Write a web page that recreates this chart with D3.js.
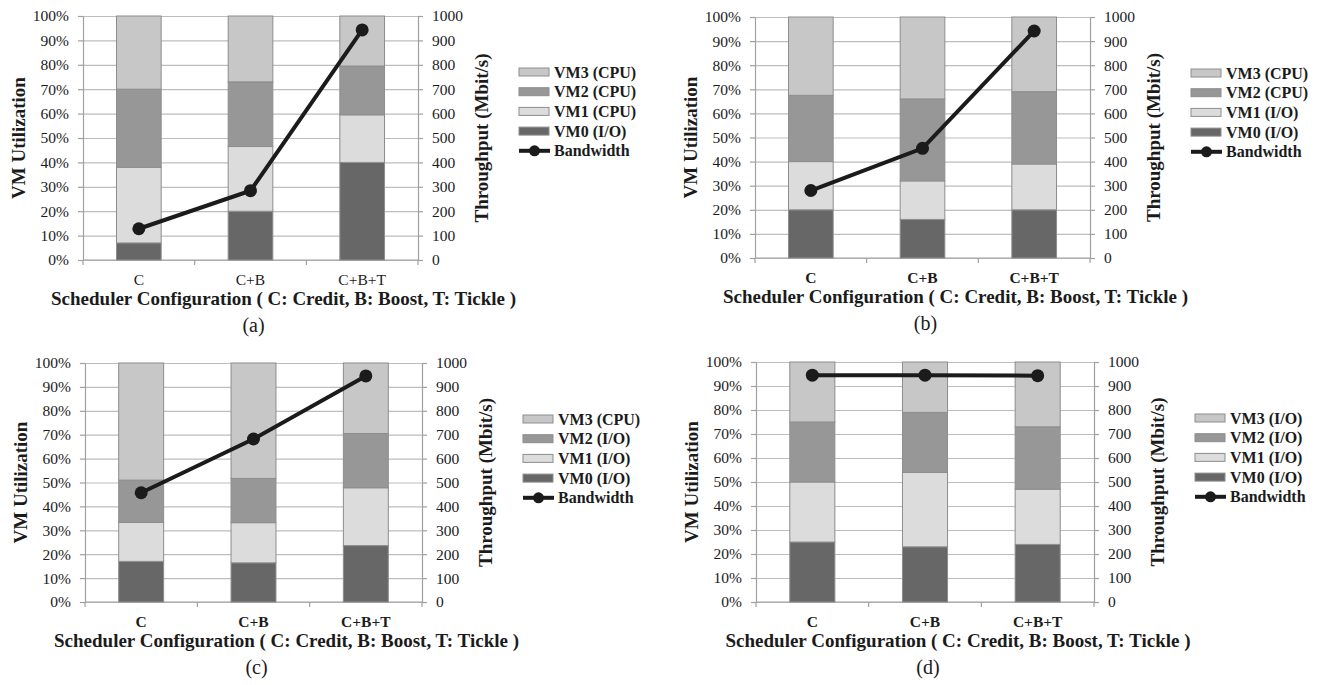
<!DOCTYPE html>
<html>
<head>
<meta charset="utf-8">
<script src="https://cdn.jsdelivr.net/npm/d3@7"></script>
<style>
  html, body { margin: 0; padding: 0; background: #fff; }
  svg { display: block; font-family: "Liberation Serif", "Times New Roman", serif; }
</style>
</head>
<body>
<svg id="chart" width="1320" height="685"></svg>
<script>
const categories = ['C', 'C+B', 'C+B+T'];
const pctTicks = [0, 10, 20, 30, 40, 50, 60, 70, 80, 90, 100];
const pctLabels = ['0%', '10%', '20%', '30%', '40%', '50%', '60%', '70%', '80%', '90%', '100%'];
const bwTicks = [0, 100, 200, 300, 400, 500, 600, 700, 800, 900, 1000];
const bwLabels = ['0', '100', '200', '300', '400', '500', '600', '700', '800', '900', '1000'];
const seriesKeys = ['vm0', 'vm1', 'vm2', 'vm3'];

// panel (a)
const vm0A = [7, 20, 40];
const vm1A = [31, 26.5, 19.5];
const vm2A = [32, 26.5, 20];
const vm3A = [30, 27, 20.5];
const bwA = [128, 284, 943];
const legendA = ['VM3 (CPU)', 'VM2 (CPU)', 'VM1 (CPU)', 'VM0 (I/O)'];

// panel (b)
const vm0B = [20, 16, 20];
const vm1B = [20, 16, 19];
const vm2B = [27.5, 34, 30];
const vm3B = [32.5, 34, 31];
const bwB = [280, 455, 942];
const legendB = ['VM3 (CPU)', 'VM2 (CPU)', 'VM1 (I/O)', 'VM0 (I/O)'];

// panel (c)
const vm0C = [17, 16.4, 23.6];
const vm1C = [16.3, 16.8, 24.2];
const vm2C = [17.7, 18.5, 22.7];
const vm3C = [49, 48.3, 29.5];
const bwC = [457, 682, 946];
const legendC = ['VM3 (CPU)', 'VM2 (I/O)', 'VM1 (I/O)', 'VM0 (I/O)'];

// panel (d)
const vm0D = [25, 23, 24];
const vm1D = [25, 31, 23];
const vm2D = [25, 25, 26];
const vm3D = [25, 21, 27];
const bwD = [945, 945, 943];
const legendD = ['VM3 (I/O)', 'VM2 (I/O)', 'VM1 (I/O)', 'VM0 (I/O)'];

const colors = { vm0: '#676767', vm1: '#dcdcdc', vm2: '#979797', vm3: '#c7c7c7' };
const legendColors = ['#c7c7c7', '#979797', '#dcdcdc', '#676767'];
const gridColor = '#bdbdbd';
const axisColor = '#a0a0a0';
const ink = '#1b1b1b';

const panels = [
  { vm: [vm0A, vm1A, vm2A, vm3A], bw: bwA, legend: legendA, caption: '(a)', boldCats: false,
    box: { l: 83, r: 418, t: 16, b: 260 } },
  { vm: [vm0B, vm1B, vm2B, vm3B], bw: bwB, legend: legendB, caption: '(b)', boldCats: true,
    box: { l: 755, r: 1090, t: 17, b: 258 } },
  { vm: [vm0C, vm1C, vm2C, vm3C], bw: bwC, legend: legendC, caption: '(c)', boldCats: true,
    box: { l: 85, r: 422, t: 363, b: 602 } },
  { vm: [vm0D, vm1D, vm2D, vm3D], bw: bwD, legend: legendD, caption: '(d)', boldCats: true,
    box: { l: 756, r: 1094, t: 362, b: 602 } }
];

const svg = d3.select('#chart');

const styleAxis = s => {
  s.attr('font-family', null).attr('font-size', null);
  s.select('.domain').attr('stroke', axisColor).attr('stroke-width', 1.2);
  s.selectAll('line').attr('stroke', axisColor).attr('stroke-width', 1.2);
  s.selectAll('text').attr('fill', ink).style('font-size', '15.5px');
};

const drawPanel = p => {
  let box, g, x, y, y2, rows, stacked, line, mid, edges, leg;
  box = p.box;
  g = svg.append('g');

  x = d3.scaleBand().domain(categories).range([box.l, box.r])
    .paddingInner(0.6).paddingOuter(0.3);
  y = d3.scaleLinear().domain([0, 100]).range([box.b, box.t]);
  y2 = d3.scaleLinear().domain([0, 1000]).range([box.b, box.t]);

  // gridlines
  g.append('g')
    .attr('transform', `translate(${box.l},0)`)
    .call(d3.axisRight(y).tickValues(pctTicks).tickSize(box.r - box.l).tickFormat(''))
    .call(s => s.select('.domain').remove())
    .call(s => s.selectAll('line').attr('stroke', gridColor).attr('stroke-width', 1.2));

  // left axis
  g.append('g')
    .attr('transform', `translate(${box.l},0)`)
    .call(d3.axisLeft(y).tickValues(pctTicks).tickSize(5).tickSizeOuter(0).tickPadding(9)
      .tickFormat((d, i) => pctLabels[i]))
    .call(styleAxis);

  // right axis
  g.append('g')
    .attr('transform', `translate(${box.r},0)`)
    .call(d3.axisRight(y2).tickValues(bwTicks).tickSize(5).tickSizeOuter(0).tickPadding(9)
      .tickFormat((d, i) => bwLabels[i]))
    .call(styleAxis);

  // category ticks at band edges
  edges = categories.map(c => x(c) - (x.step() - x.bandwidth()) / 2);
  edges[0] = box.l;
  edges.push(box.r);
  g.append('g').selectAll('line').data(edges).join('line')
    .attr('x1', d => d).attr('x2', d => d)
    .attr('y1', box.b).attr('y2', box.b + 5)
    .attr('stroke', axisColor).attr('stroke-width', 1.2);

  // bottom baseline
  g.append('line')
    .attr('x1', box.l).attr('x2', box.r).attr('y1', box.b).attr('y2', box.b)
    .attr('stroke', axisColor).attr('stroke-width', 1.2);

  // stacked bars
  rows = categories.map((c, i) => ({
    cat: c, vm0: p.vm[0][i], vm1: p.vm[1][i], vm2: p.vm[2][i], vm3: p.vm[3][i]
  }));
  stacked = d3.stack().keys(seriesKeys)(rows);
  g.append('g').selectAll('g').data(stacked).join('g')
    .attr('fill', d => colors[d.key])
    .selectAll('rect').data(d => d).join('rect')
    .attr('x', d => x(d.data.cat))
    .attr('width', x.bandwidth())
    .attr('y', d => y(d[1]))
    .attr('height', d => y(d[0]) - y(d[1]))
    .attr('stroke', '#8d8d8d')
    .attr('stroke-width', 1);

  // bandwidth line
  mid = c => x(c) + x.bandwidth() / 2;
  line = d3.line().x((d, i) => mid(categories[i])).y(d => y2(d));
  g.append('path')
    .datum(p.bw)
    .attr('d', line)
    .attr('fill', 'none')
    .attr('stroke', ink)
    .attr('stroke-width', 4);
  g.append('g').selectAll('circle').data(p.bw).join('circle')
    .attr('cx', (d, i) => mid(categories[i]))
    .attr('cy', d => y2(d))
    .attr('r', 6.5)
    .attr('fill', ink);

  // category labels
  g.append('g').selectAll('text').data(categories).join('text')
    .attr('x', d => mid(d))
    .attr('y', box.b + 20)
    .attr('dy', '0.35em')
    .attr('text-anchor', 'middle')
    .attr('fill', ink)
    .style('font-size', '15.5px')
    .style('font-weight', p.boldCats ? 'bold' : 'normal')
    .text(d => d);

  // axis titles
  g.append('text')
    .attr('x', (box.l + box.r) / 2 + 33)
    .attr('y', box.b + 38)
    .attr('dy', '0.35em')
    .attr('text-anchor', 'middle')
    .attr('fill', ink)
    .style('font-size', '19px')
    .style('font-weight', 'bold')
    .text('Scheduler Configuration ( C: Credit, B: Boost, T: Tickle )');

  g.append('text')
    .attr('transform', `translate(${box.l - 65},${(box.t + box.b) / 2}) rotate(-90)`)
    .attr('dy', '0.35em')
    .attr('text-anchor', 'middle')
    .attr('fill', ink)
    .style('font-size', '19px')
    .style('font-weight', 'bold')
    .text('VM Utilization');

  g.append('text')
    .attr('transform', `translate(${box.r + 63},${(box.t + box.b) / 2}) rotate(-90)`)
    .attr('dy', '0.35em')
    .attr('text-anchor', 'middle')
    .attr('fill', ink)
    .style('font-size', '19px')
    .style('font-weight', 'bold')
    .text('Throughput (Mbit/s)');

  // caption
  g.append('text')
    .attr('x', (box.l + box.r) / 2 + 3)
    .attr('y', box.b + 65)
    .attr('dy', '0.35em')
    .attr('text-anchor', 'middle')
    .attr('fill', ink)
    .style('font-size', '20px')
    .text(p.caption);

  // legend
  leg = g.append('g').attr('transform', `translate(${box.r + 101},${box.t + 56})`);
  p.legend.forEach((name, i) => {
    leg.append('rect')
      .attr('x', 0).attr('y', i * 19.7 - 4)
      .attr('width', 30).attr('height', 8)
      .attr('fill', legendColors[i])
      .attr('stroke', '#8d8d8d').attr('stroke-width', 1);
    leg.append('text')
      .attr('x', 35).attr('y', i * 19.7)
      .attr('dy', '0.35em')
      .attr('fill', ink)
      .style('font-size', '16px')
      .style('font-weight', 'bold')
      .text(name);
  });
  leg.append('line')
    .attr('x1', 0).attr('x2', 31).attr('y1', 4 * 19.7).attr('y2', 4 * 19.7)
    .attr('stroke', ink).attr('stroke-width', 4);
  leg.append('circle')
    .attr('cx', 15.5).attr('cy', 4 * 19.7).attr('r', 5.5).attr('fill', ink);
  leg.append('text')
    .attr('x', 35).attr('y', 4 * 19.7)
    .attr('dy', '0.35em')
    .attr('fill', ink)
    .style('font-size', '16px')
    .style('font-weight', 'bold')
    .text('Bandwidth');
};

panels.forEach(drawPanel);
</script>
</body>
</html>
